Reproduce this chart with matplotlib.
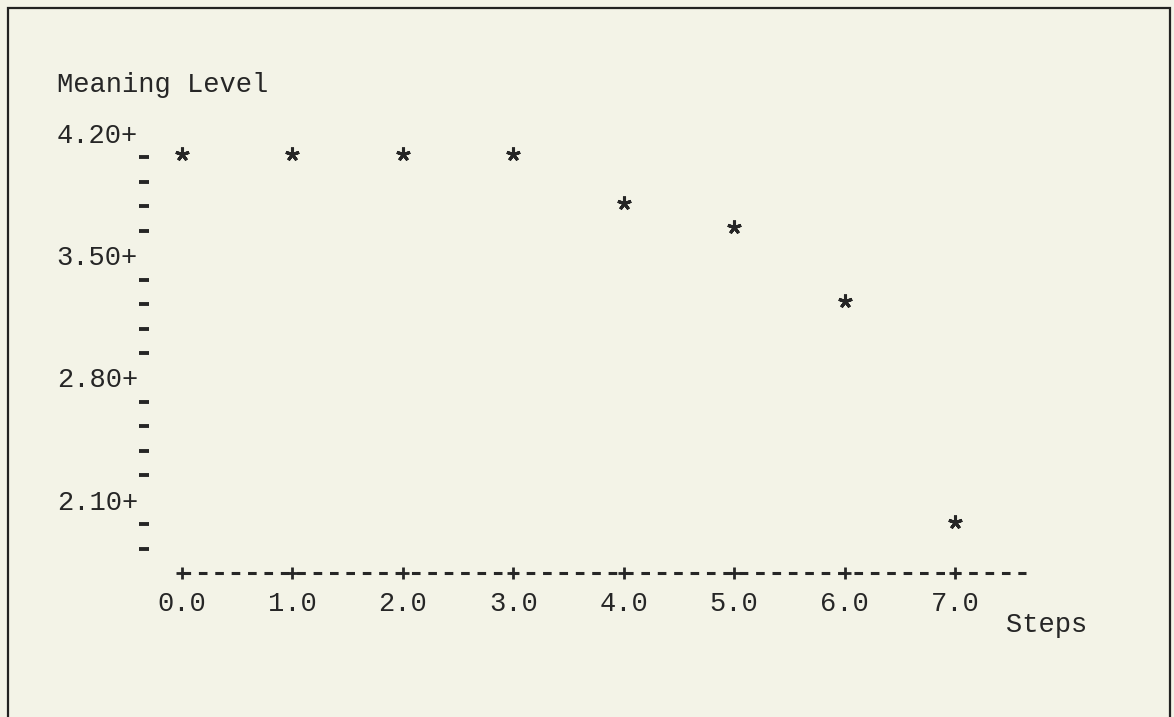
import matplotlib
matplotlib.use("Agg")
import matplotlib.pyplot as plt
from matplotlib.patches import Rectangle
from matplotlib.ticker import FixedLocator, NullFormatter

# ---- data ----
steps = [0, 1, 2, 3, 4, 5, 6, 7]
meaning_level = [4.08, 4.08, 4.08, 4.08, 3.80, 3.66, 3.24, 1.97]

x_ticks = [0, 1, 2, 3, 4, 5, 6, 7]
x_tick_labels = ["0.0", "1.0", "2.0", "3.0", "4.0", "5.0", "6.0", "7.0"]
y_ticks = [4.20, 3.50, 2.80, 2.10]
y_tick_labels = ["4.20+", "3.50+", "2.80+", "2.10+"]
y_minor = [4.06, 3.92, 3.78, 3.64, 3.36, 3.22, 3.08, 2.94,
           2.66, 2.52, 2.38, 2.24, 1.96, 1.82]
x_axis_level = 1.68

INK = "#262626"
BG = "#f3f3e7"
FONT = "Liberation Mono"
FS = 19.5

plt.rcParams["lines.scale_dashes"] = False

W, H = 1174, 717
fig = plt.figure(figsize=(W / 100, H / 100), dpi=100, facecolor=BG)

# frame around the print-out (left, top, right visible)
fig.patches.append(Rectangle((8 / W, -0.05), (1170 - 8) / W, 1.05 - 8 / H,
                             transform=fig.transFigure, fill=False,
                             edgecolor="#222222", linewidth=1.6))

L, R, T, B = 149, 1026, 133, 573
ax = fig.add_axes([L / W, 1 - B / H, (R - L) / W, (B - T) / H])
ax.set_facecolor("none")

px_per_unit = (955 - 182) / 7.0
ax.set_xlim((L - 182) / px_per_unit, (R - 182) / px_per_unit)
ax.set_ylim(x_axis_level, 4.20)

for s in ["top", "right", "bottom", "left"]:
    ax.spines[s].set_visible(False)

# y axis: labels with '+' and '-' dash ticks
ax.set_yticks(y_ticks)
ax.set_yticklabels(y_tick_labels, fontfamily=FONT, fontsize=FS, color=INK)
ax.tick_params(axis="y", which="major", length=0, pad=8)
ax.yaxis.set_minor_locator(FixedLocator(y_minor))
ax.yaxis.set_minor_formatter(NullFormatter())
ax.tick_params(axis="y", which="minor", length=7, width=2.8, color=INK,
               direction="out")

# x axis: dashed line with '+' marks
ax.set_xticks(x_ticks)
ax.set_xticklabels(x_tick_labels, fontfamily=FONT, fontsize=FS, color=INK)
ax.tick_params(axis="x", which="major", length=0, pad=13)
ax.plot([x_ticks[0], ax.get_xlim()[1]], [x_axis_level, x_axis_level],
        color=INK, linewidth=2.2, linestyle=(0, (6.2, 5.6)),
        clip_on=False, solid_capstyle="butt")
ax.plot(x_ticks, [x_axis_level] * len(x_ticks), linestyle="none",
        marker="+", markersize=9, markeredgewidth=2.0, color=INK,
        clip_on=False)

# data points as asterisks
ax.plot(steps, meaning_level, linestyle="none", marker=(5, 2, 0),
        markersize=10, markeredgewidth=2.2, color=INK, clip_on=False)

ax.set_ylabel("Meaning Level", rotation=0, ha="left", va="center",
              fontfamily=FONT, fontsize=FS, color=INK)
ax.yaxis.set_label_coords((57 - L) / (R - L), (B - 85) / (B - T))
ax.set_xlabel("Steps", ha="left", va="center",
              fontfamily=FONT, fontsize=FS, color=INK)
ax.xaxis.set_label_coords((1006 - L) / (R - L), (B - 625) / (B - T))

fig.savefig("out.png", dpi=100, facecolor=BG)
